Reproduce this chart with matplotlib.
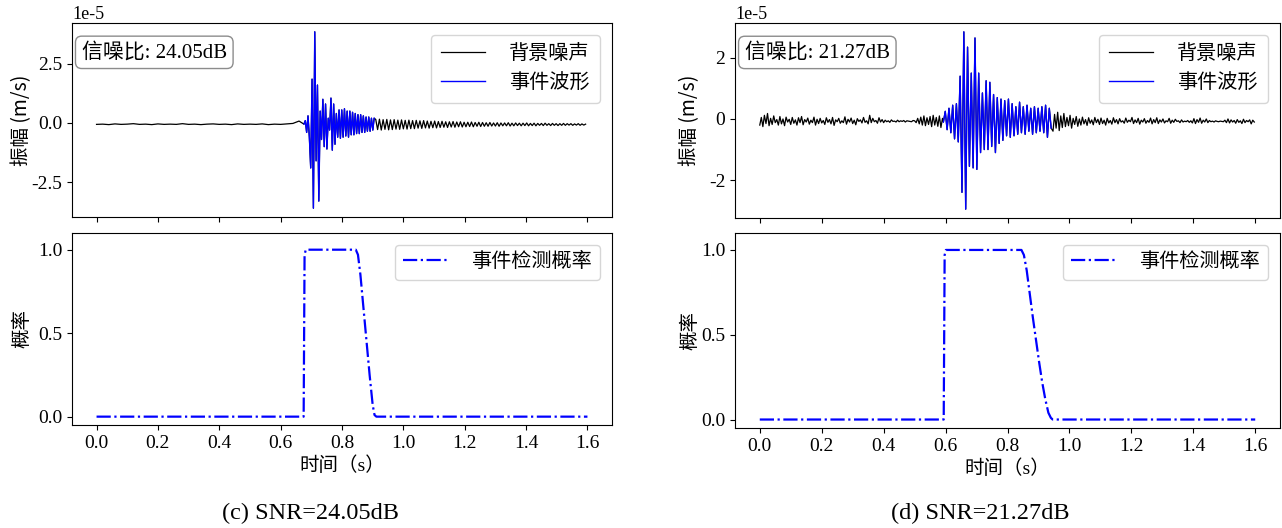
import numpy as np
import matplotlib
matplotlib.use("Agg")
import matplotlib.pyplot as plt
from matplotlib.ticker import MultipleLocator

plt.rcParams['font.family'] = ['Liberation Serif', 'Noto Sans CJK SC']
plt.rcParams['axes.unicode_minus'] = False
plt.rcParams['mathtext.fontset'] = 'stix'

# ---------------- data (amplitudes in units of 1e-5 m/s) ----------------
SCALE = 1e-5

# panel (c): SNR 24.05 dB
snr_c = "24.05"
pre_c_start, pre_c_dt = 0.0, 0.02
pre_c = [-0.06, -0.05, -0.07, -0.04, -0.06, -0.05, -0.03, -0.06, -0.05, -0.07,
         -0.04, -0.06, -0.05, -0.06, -0.03, -0.06, -0.05, -0.07, -0.05, -0.04,
         -0.06, -0.05, -0.07, -0.04, -0.06, -0.05, -0.06, -0.04, -0.07, -0.05,
         -0.06, -0.04, -0.02, 0.08]
evt_c_start, evt_c_dt = 0.676, 0.0044
evt_c = [-0.05, 0.10, -0.40, 0.30, -0.60, -1.90, 1.85, -3.60, 3.85, -1.60,
         1.60, -3.30, 0.50, -0.70, 1.00, -1.00, 0.80, -1.10, 0.20, -0.30,
         1.05, -1.15, 0.80, -0.90, 0.40, -0.60, 0.55, -0.65, 0.55, -0.60,
         0.60, -0.55, 0.50, -0.60, 0.50, -0.50, 0.45, -0.50, 0.40, -0.45,
         0.35, -0.45, 0.35, -0.40, 0.30, -0.40, 0.25, -0.35, 0.25, -0.35,
         0.20, -0.30, 0.20]
post_c_start, post_c_dt = 0.91, 0.006
post_c = [0.15, -0.28, 0.16, -0.30, 0.14, -0.27, 0.15, -0.29, 0.13, -0.28,
          0.14, -0.26, 0.12, -0.27, 0.13, -0.25, 0.11, -0.26, 0.12, -0.24,
          0.10, -0.24, 0.11, -0.22, 0.09, -0.23, 0.10, -0.21, 0.08, -0.22,
          0.07, -0.20, 0.08, -0.21, 0.06, -0.19, 0.07, -0.18, 0.05, -0.19,
          0.05, -0.17, 0.06, -0.18, 0.04, -0.16, 0.05, -0.17, 0.03, -0.16,
          0.03, -0.15, 0.04, -0.16, 0.02, -0.14, 0.03, -0.15, 0.02, -0.14,
          0.01, -0.14, 0.02, -0.13, 0.00, -0.13, 0.01, -0.14, 0.00, -0.12,
          0.00, -0.12, 0.01, -0.13, -0.01, -0.12, 0.00, -0.11, -0.01, -0.12,
          -0.01, -0.11, 0.00, -0.12, -0.02, -0.11, -0.01, -0.12, -0.02, -0.10,
          -0.02, -0.11, -0.01, -0.10, -0.03, -0.11, -0.02, -0.10, -0.03, -0.11,
          -0.03, -0.10, -0.02, -0.10, -0.03, -0.09, -0.03, -0.10, -0.04, -0.09,
          -0.03, -0.10, -0.04, -0.09, -0.05]
prob_t_c = [0.0, 0.675, 0.678, 0.682, 0.845, 0.852, 0.860, 0.870, 0.880, 0.890,
            0.900, 0.906, 0.912, 1.6]
prob_v_c = [0.0, 0.0, 0.97, 1.0, 1.0, 0.97, 0.85, 0.65, 0.45, 0.25,
            0.07, 0.01, 0.0, 0.0]

# panel (d): SNR 21.27 dB
snr_d = "21.27"
pre_d_start, pre_d_dt = 0.0, 0.005
pre_d = [-0.20, 0.05, -0.25, 0.12, -0.15, 0.18, -0.22, 0.02, -0.18, 0.10,
         -0.12, -0.02, -0.20, 0.08, -0.16, 0.00, -0.22, 0.06, -0.10, -0.01,
         -0.18, 0.05, -0.14, -0.03, -0.20, 0.04, -0.12, 0.08, -0.19, -0.02,
         -0.10, 0.03, -0.17, -0.04, -0.12, 0.06, -0.20, -0.01, -0.15, 0.02,
         -0.13, -0.05, -0.18, 0.04, -0.11, -0.02, -0.16, 0.05, -0.21, -0.03,
         -0.09, 0.02, -0.14, -0.06, -0.12, 0.07, -0.17, -0.01, -0.10, 0.03,
         -0.15, -0.04, -0.19, 0.01, -0.08, -0.03, -0.13, 0.05, -0.11, -0.06,
         -0.16, 0.12, -0.12, 0.02, -0.09, -0.05, -0.14, 0.04, -0.10, -0.02,
         -0.12, -0.04, -0.09, -0.06, -0.11, -0.03, -0.08, -0.07, -0.10, -0.04,
         -0.09, -0.06, -0.08, -0.05, -0.10, -0.06, -0.07, -0.08, -0.09, -0.05,
         -0.06, -0.12, 0.02, -0.16, 0.06, -0.20, 0.10, -0.22, 0.04, -0.18,
         0.08, -0.25, 0.12, -0.20, 0.05, -0.24, 0.10, -0.28, 0.02]
evt_d_start, evt_d_dt = 0.593, 0.006
evt_d = [-0.10, 0.25, -0.35, 0.35, -0.45, 0.45, -0.65, 0.50, -0.75, 1.40,
         -2.40, 2.85, -2.95, 2.35, -1.55, 1.50, -1.60, 2.65, -1.65, 1.50,
         -1.10, 0.85, -1.00, 1.25, -1.00, 1.20, -0.90, 0.80, -1.10, 0.70,
         -0.80, 0.65, -0.70, 0.60, -0.55, 0.65, -0.60, 0.50, -0.55, 0.40,
         -0.50, 0.55, -0.45, 0.40, -0.50, 0.45, -0.40, 0.35, -0.50, 0.40,
         -0.45, 0.35, -0.40, 0.40, -0.45, 0.45, -0.60, 0.35, -0.30]
post_d_start, post_d_dt = 0.947, 0.005
post_d = [-0.40, 0.15, -0.30, 0.22, -0.38, 0.10, -0.28, 0.18, -0.25, 0.05,
          -0.22, 0.12, -0.30, 0.02, -0.18, 0.08, -0.24, 0.00, -0.20, 0.06,
          -0.16, -0.02, -0.21, 0.04, -0.14, -0.03, -0.19, 0.05, -0.12, -0.01,
          -0.18, 0.03, -0.15, -0.04, -0.20, 0.02, -0.13, -0.05, -0.17, 0.04,
          -0.12, -0.02, -0.16, 0.01, -0.10, -0.06, -0.14, 0.03, -0.11, -0.04,
          -0.09, 0.05, -0.15, -0.03, -0.12, 0.02, -0.17, -0.04, -0.10, 0.01,
          -0.14, -0.05, -0.11, 0.03, -0.16, -0.02, -0.12, 0.04, -0.15, -0.03,
          -0.10, 0.00, -0.13, -0.06, -0.09, 0.02, -0.14, -0.04, -0.11, -0.01,
          -0.08, -0.06, -0.12, -0.03, -0.10, -0.07, -0.09, -0.05, -0.11, -0.06,
          -0.13, 0.01, -0.15, -0.02, -0.11, 0.03, -0.14, -0.04, -0.10, 0.00,
          -0.12, -0.05, -0.09, -0.07, -0.10, -0.06, -0.08, -0.09, -0.07, -0.08,
          -0.09, -0.04, -0.12, 0.00, -0.13, -0.03, -0.10, -0.05, -0.14, -0.02,
          -0.11, -0.06, -0.15, -0.01, -0.12, -0.05, -0.09, -0.03, -0.16, -0.04,
          -0.10]
prob_t_d = [0.0, 0.594, 0.597, 0.601, 0.845, 0.853, 0.862, 0.872, 0.882, 0.892,
            0.902, 0.912, 0.922, 0.932, 0.940, 0.946, 1.6]
prob_v_d = [0.0, 0.0, 0.97, 1.0, 1.0, 0.97, 0.88, 0.74, 0.60, 0.47,
            0.34, 0.22, 0.12, 0.04, 0.01, 0.0, 0.0]

x_ticks = [0.0, 0.2, 0.4, 0.6, 0.8, 1.0, 1.2, 1.4, 1.6]
captions = ["(c) SNR=24.05dB", "(d) SNR=21.27dB"]


def seg(start, dt, vals):
    v = np.asarray(vals, dtype=float) * SCALE
    return start + dt * np.arange(len(v)), v


W, H = 1282, 528
fig = plt.figure(figsize=(W / 100, H / 100), dpi=100)


def px_axes(x0, x1, ytop, ybot):
    return fig.add_axes([x0 / W, 1 - ybot / H, (x1 - x0) / W, (ybot - ytop) / H])


FS_TICK = 14
CJK = ['Noto Sans CJK SC']


def draw_column(x0, x1, top_box, bot_box, pre, evt, post, snr, ptimes, pvals,
                ystep, ylab_x, caption, cap_x):
    ax1 = px_axes(x0, x1, *top_box)
    ax2 = px_axes(x0, x1, *bot_box)

    tp, vp = seg(*pre)
    te, ve = seg(*evt)
    tq, vq = seg(*post)
    t_all = np.concatenate([tp, te, tq])
    v_all = np.concatenate([vp, ve, vq])
    ax1.plot(t_all, v_all, color='black', lw=0.9, label='背景噪声')
    ax1.plot(te, ve, color='#0000ff', lw=1.0, label='事件波形')
    ax1.yaxis.set_major_locator(MultipleLocator(ystep * SCALE))
    ax1.ticklabel_format(axis='y', style='sci', scilimits=(0, 0))
    ax1.yaxis.get_offset_text().set_fontsize(13)
    ax1.set_xticks(x_ticks)
    ax1.tick_params(labelbottom=False, labelsize=FS_TICK)
    ax1.set_xlim(-0.08, 1.68)
    ax1.set_ylabel('振幅 (m/s)', fontsize=14, family=CJK)
    ax1.yaxis.set_label_coords(ylab_x, 0.5)
    ax1.legend(loc='upper right', fontsize=14.5, handlelength=2.2,
               handletextpad=1.2, borderaxespad=0.6, borderpad=0.5)
    ax1.text(0.018, 0.9, f'信噪比: {snr}dB', transform=ax1.transAxes,
             fontsize=15, va='top', ha='left',
             bbox=dict(boxstyle='round,pad=0.3', fc='white', ec='0.55', lw=1.0))

    ax2.plot(ptimes, pvals, color='#0000ff', lw=1.6, ls='-.', label='事件检测概率')
    ax2.set_xticks(x_ticks)
    ax2.set_yticks([0.0, 0.5, 1.0])
    ax2.set_xlim(-0.08, 1.68)
    ax2.set_ylim(-0.05, 1.1)
    ax2.tick_params(labelsize=FS_TICK)
    ax2.set_xlabel('时间（s）', fontsize=14, labelpad=3)
    ax2.set_ylabel('概率', fontsize=14, family=CJK)
    ax2.yaxis.set_label_coords(ylab_x, 0.5)
    ax2.legend(loc='upper right', fontsize=14.5, handlelength=2.2,
               handletextpad=1.2, borderaxespad=0.6)

    fig.text(cap_x / W, 1 - 513 / H, caption, fontsize=17.5, ha='center',
             va='center')


draw_column(72, 612, (23, 217), (233, 425),
            (pre_c_start, pre_c_dt, pre_c), (evt_c_start, evt_c_dt, evt_c),
            (post_c_start, post_c_dt, post_c), snr_c, prob_t_c, prob_v_c,
            2.5, -0.074, captions[0], 310)
draw_column(735, 1280, (23, 218), (233, 428),
            (pre_d_start, pre_d_dt, pre_d), (evt_d_start, evt_d_dt, evt_d),
            (post_d_start, post_d_dt, post_d), snr_d, prob_t_d, prob_v_d,
            2.0, -0.064, captions[1], 980)

fig.savefig('out.png', dpi=100)
